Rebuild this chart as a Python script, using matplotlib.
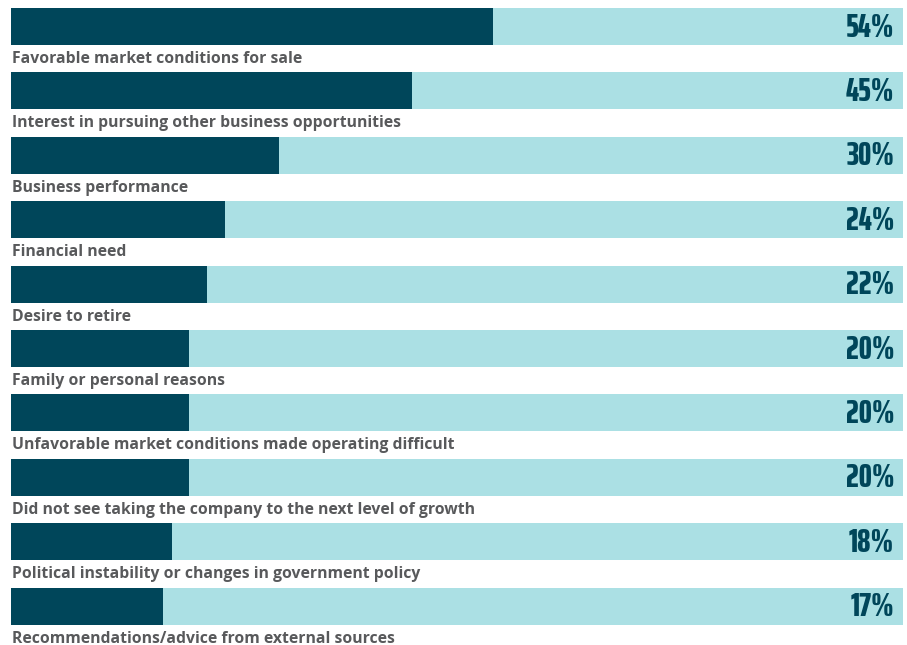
import matplotlib.pyplot as plt

reasons = [
    "Favorable market conditions for sale",
    "Interest in pursuing other business opportunities",
    "Business performance",
    "Financial need",
    "Desire to retire",
    "Family or personal reasons",
    "Unfavorable market conditions made operating difficult",
    "Did not see taking the company to the next level of growth",
    "Political instability or changes in government policy",
    "Recommendations/advice from external sources",
]
shares = [54, 45, 30, 24, 22, 20, 20, 20, 18, 17]

DARK = "#00465a"
LIGHT = "#abe0e4"
GREY = "#58595b"

fig = plt.figure(figsize=(9.07, 6.45), dpi=100)
ax = fig.add_axes([11 / 907, 0, 892 / 907, 1])

rows = range(len(reasons))
# light track for 100%, dark bar for the share on top of it
ax.barh(rows, [100] * len(reasons), height=0.575, color=LIGHT, align="center")
ax.barh(rows, shares, height=0.575, color=DARK, align="center")

for i, (name, v) in enumerate(zip(reasons, shares)):
    ax.text(0.15, i + 0.567, name, ha="left", va="baseline",
            fontsize=11.3, fontweight="bold", color=GREY,
            family=["Open Sans", "DejaVu Sans"])
    ax.text(99.0, i + 0.158, f"{v}%", ha="right", va="baseline",
            fontsize=24, fontweight=800, color=DARK,
            family=["Saira ExtraCondensed", "DejaVu Sans"])

ax.set_xlim(0, 100)
ax.set_ylim(9.604, -0.4115)
ax.axis("off")

fig.savefig("out.png", dpi=100)
